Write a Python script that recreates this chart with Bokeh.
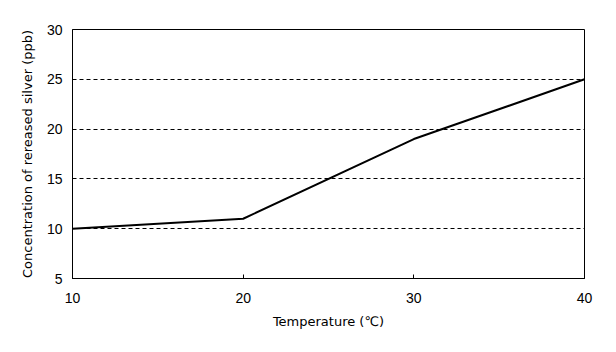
from bokeh.plotting import figure
from bokeh.models import FixedTicker, Range1d
from bokeh.embed import file_html
from bokeh.resources import INLINE

temperature = [10, 20, 30, 40]
concentration = [10, 11, 19, 25]
x_ticks = [10, 20, 30, 40]
y_ticks = [5, 10, 15, 20, 25, 30]

p = figure(width=616, height=352, output_backend="svg", toolbar_location=None,
           x_range=Range1d(10, 40), y_range=Range1d(5, 30),
           min_border_left=72, min_border_right=32, min_border_top=29, min_border_bottom=74)
p.background_fill_color = "white"
p.border_fill_color = "white"
p.outline_line_color = "black"
p.outline_line_width = 1

p.line(temperature, concentration, line_color="black", line_width=2)

p.xaxis.ticker = FixedTicker(ticks=x_ticks)
p.yaxis.ticker = FixedTicker(ticks=y_ticks)
for ax in (p.xaxis, p.yaxis):
    ax.axis_line_color = "black"
    ax.major_label_text_font = "Liberation Sans"
    ax.major_label_text_font_size = "14px"
    ax.major_label_text_color = "black"
    ax.axis_label_text_font = "DejaVu Sans"
    ax.axis_label_text_font_size = "13px"
    ax.axis_label_text_font_style = "normal"
    ax.axis_label_text_color = "black"
    ax.minor_tick_line_color = None
p.xaxis.major_tick_in = 4
p.xaxis.major_tick_out = 0
p.xaxis.major_tick_line_color = "black"
p.yaxis.major_tick_in = 0
p.yaxis.major_tick_out = 0
p.xaxis.major_label_standoff = 14
p.yaxis.major_label_standoff = 10
p.xaxis.axis_label = "Temperature (℃)"
p.yaxis.axis_label = "Concentration of rereased silver (ppb)"
p.xaxis.axis_label_standoff = 8
p.yaxis.axis_label_standoff = 9

p.xgrid.grid_line_color = None
p.ygrid.ticker = FixedTicker(ticks=[10, 15, 20, 25])
p.ygrid.grid_line_color = "black"
p.ygrid.grid_line_dash = "4 3"
p.ygrid.grid_line_width = 1

open("out.html", "w").write(file_html(p, INLINE))
